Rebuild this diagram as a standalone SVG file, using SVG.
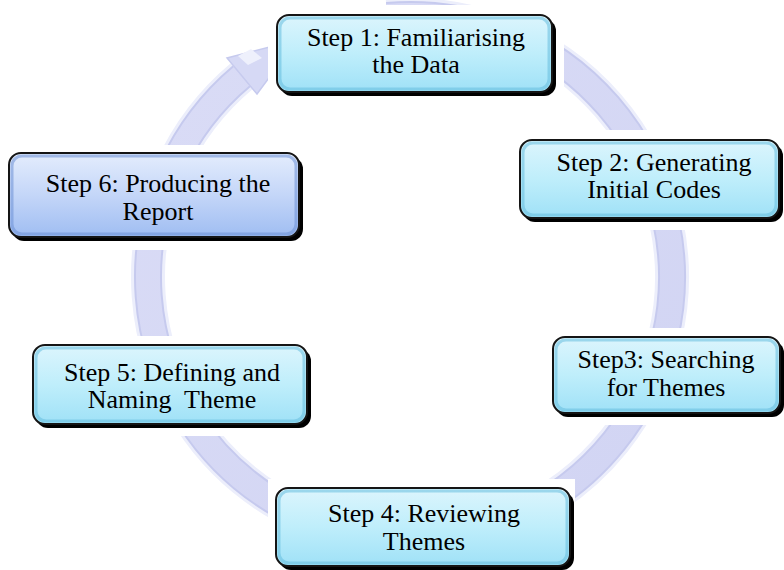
<svg xmlns="http://www.w3.org/2000/svg" width="784" height="570" viewBox="0 0 784 570">
<defs>
<linearGradient id="cyan" x1="0" y1="0" x2="0" y2="1">
<stop offset="0" stop-color="#dcf5fd"/>
<stop offset="0.5" stop-color="#bfeefb"/>
<stop offset="1" stop-color="#9fe1f7"/>
</linearGradient>
<linearGradient id="blue" x1="0" y1="0" x2="0" y2="1">
<stop offset="0" stop-color="#e4edfd"/>
<stop offset="0.5" stop-color="#c4d6f8"/>
<stop offset="1" stop-color="#9fbdf2"/>
</linearGradient>
<linearGradient id="ringg" x1="0" y1="0" x2="1" y2="1">
<stop offset="0" stop-color="#dadcf6"/>
<stop offset="1" stop-color="#d1d4f3"/>
</linearGradient>
</defs>
<style>
.shadow{fill:#000}
.box{stroke:#151515;stroke-width:2}
.c{fill:url(#cyan)}
.b{fill:url(#blue)}
.glowc{fill:none;stroke:#66bedf;stroke-width:3;opacity:0.55}
.glowb{fill:none;stroke:#6c90d6;stroke-width:3;opacity:0.55}
.cover{fill:#fff}
text{font-family:"Liberation Serif","Times New Roman",serif;font-size:26px;fill:#000;text-anchor:middle}
</style>
<rect width="784" height="570" fill="#fff"/>
<g id="connectors">
<path d="M387.2,16 A262,262 0 1 1 241.6,76.3" fill="none" stroke="#eceefb" stroke-width="34"/>
<path d="M387.2,16 A262,262 0 1 1 241.6,76.3" fill="none" stroke="#c6caee" stroke-width="28"/>
<path d="M387.2,16 A262,262 0 1 1 241.6,76.3" fill="none" stroke="url(#ringg)" stroke-width="24"/>
<polygon points="257,94 227,58 297,40" fill="#d6d9f5" stroke="#c6caee" stroke-width="1.5"/>
<polygon points="238,56 251,49 262,58 248,65" fill="#eef0fc"/>
</g>
<g id="covers">
<rect class="cover" x="268" y="5" width="296" height="100"/>
<rect class="cover" x="512" y="130" width="272" height="100"/>
<rect class="cover" x="545" y="328" width="239" height="97"/>
<rect class="cover" x="268" y="479" width="307" height="91"/>
<rect class="cover" x="25" y="336" width="293" height="100"/>
<rect class="cover" x="0" y="145" width="310" height="105"/>
</g>
<g id="step1">
<rect class="shadow" x="280" y="19" width="276" height="77" rx="12"/>
<rect class="box c" x="277" y="15" width="275" height="77" rx="12"/>
<rect class="glowc" x="280" y="18" width="269" height="71" rx="10"/>
<text x="416" y="46">Step 1: Familiarising</text>
<text x="416" y="73">the Data</text>
</g>
<g id="step2">
<rect class="shadow" x="523" y="144" width="260" height="78" rx="12"/>
<rect class="box c" x="520" y="140" width="259" height="78" rx="12"/>
<rect class="glowc" x="523" y="143" width="253" height="72" rx="10"/>
<text x="654" y="171">Step 2: Generating</text>
<text x="654" y="198">Initial Codes</text>
</g>
<g id="step3">
<rect class="shadow" x="556" y="341" width="228" height="76" rx="12"/>
<rect class="box c" x="553" y="337" width="227" height="76" rx="12"/>
<rect class="glowc" x="556" y="340" width="221" height="70" rx="10"/>
<text x="666" y="368">Step3: Searching</text>
<text x="666" y="396">for Themes</text>
</g>
<g id="step4">
<rect class="shadow" x="279" y="492" width="295" height="78" rx="12"/>
<rect class="box c" x="276" y="488" width="294" height="78" rx="12"/>
<rect class="glowc" x="279" y="491" width="288" height="72" rx="10"/>
<text x="424" y="522">Step 4: Reviewing</text>
<text x="424" y="550">Themes</text>
</g>
<g id="step5">
<rect class="shadow" x="36" y="349" width="275" height="79" rx="12"/>
<rect class="box c" x="33" y="345" width="274" height="79" rx="12"/>
<rect class="glowc" x="36" y="348" width="268" height="73" rx="10"/>
<text x="172" y="381">Step 5: Defining and</text>
<text x="172" y="408" xml:space="preserve">Naming  Theme</text>
</g>
<g id="step6">
<rect class="shadow" x="12" y="157" width="291" height="84" rx="12"/>
<rect class="box b" x="9" y="153" width="290" height="84" rx="12"/>
<rect class="glowb" x="12" y="156" width="284" height="78" rx="10"/>
<text x="158" y="192">Step 6: Producing the</text>
<text x="158" y="220">Report</text>
</g>
</svg>
